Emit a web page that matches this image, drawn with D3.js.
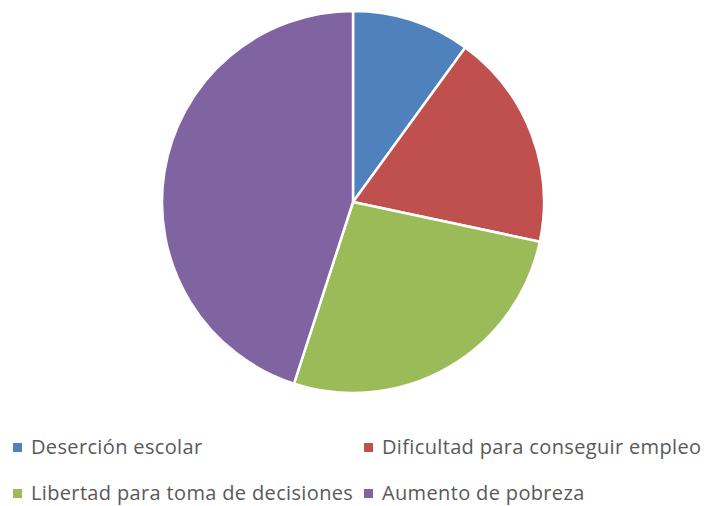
<!DOCTYPE html>
<html>
<head>
<meta charset="utf-8">
<script src="https://cdn.jsdelivr.net/npm/d3@7"></script>
<style>
  html, body { margin: 0; padding: 0; background: #fff; }
</style>
</head>
<body>
<div id="chart"></div>
<script>
// data
const categories = ['Deserción escolar', 'Dificultad para conseguir empleo', 'Libertad para toma de decisiones', 'Aumento de pobreza'];
const values = [6, 11, 16, 27];
const colors = ['#4F81BD', '#C0504D', '#9BBB59', '#8064A2'];

const width = 705, height = 506;
const cx = 353, cy = 202, radius = 191;
const font = "'Open Sans', 'Noto Sans', sans-serif";

const svg = d3.select('#chart').append('svg')
    .attr('width', width).attr('height', height);

const pie = d3.pie().sort(null).value(d => d.value);
const arc = d3.arc().innerRadius(0).outerRadius(radius);

const data = categories.map((c, i) => ({ name: c, value: values[i], color: colors[i] }));

const g = svg.append('g').attr('transform', `translate(${cx},${cy})`);
g.selectAll('path')
    .data(pie(data))
    .join('path')
    .attr('d', arc)
    .attr('fill', d => d.data.color)
    .attr('stroke', '#fff')
    .attr('stroke-width', 2.5)
    .attr('stroke-linejoin', 'round');

// legend: two columns, two rows
const colX = [13, 364];
const rowY = [447, 493];
const legend = svg.append('g');
const item = legend.selectAll('g')
    .data(data)
    .join('g')
    .attr('transform', (d, i) => `translate(${colX[i % 2]},${rowY[Math.floor(i / 2)]})`);

item.append('rect')
    .attr('x', 0).attr('y', -4)
    .attr('width', 9).attr('height', 9)
    .attr('fill', d => d.color);

item.append('text')
    .attr('x', 18).attr('y', 0)
    .attr('dy', '0.34em')
    .attr('fill', '#595959')
    .attr('font-family', font)
    .attr('font-size', 20)
    .attr('letter-spacing', 0.35)
    .text(d => d.name);
</script>
</body>
</html>
